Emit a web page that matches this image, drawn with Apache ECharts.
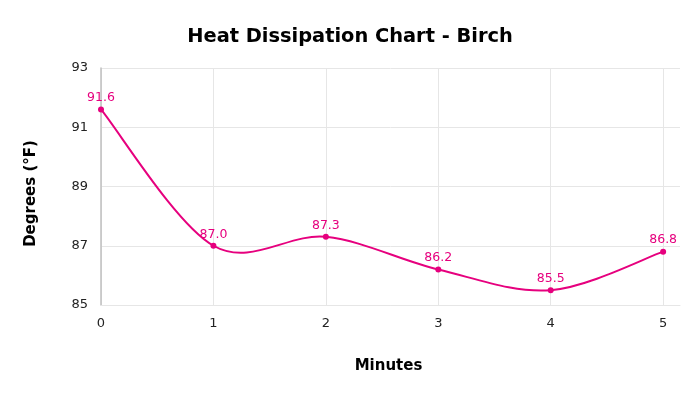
<!DOCTYPE html>
<html><head><meta charset="utf-8">
<script src="https://cdn.jsdelivr.net/npm/echarts@6/dist/echarts.min.js"></script>
<style>html,body{margin:0;padding:0;background:#fff}#c{width:700px;height:394px}</style>
</head><body><div id="c"></div>
<script>
const minutes = [0, 1, 2, 3, 4, 5];
const degrees = [91.6, 87.0, 87.3, 86.2, 85.5, 86.8];
const yTicks = [85, 87, 89, 91, 93];
const color = '#e6007e';
const font = 'DejaVu Sans';
const chart = echarts.init(document.getElementById('c'));

// Smooth (Catmull-Rom style) curve through the data points, positioned via api.coord
function renderCurve(params, api) {
  if (params.dataIndex !== 0) return;
  const pts = minutes.map((m, i) => api.coord([m, degrees[i]]));
  const k = 1 / 6;
  let d = 'M' + pts[0][0] + ' ' + pts[0][1];
  for (let i = 0; i < pts.length - 1; i++) {
    const p0 = pts[Math.max(i - 1, 0)], p1 = pts[i], p2 = pts[i + 1], p3 = pts[Math.min(i + 2, pts.length - 1)];
    const c1 = [p1[0] + (p2[0] - p0[0]) * k, p1[1] + (p2[1] - p0[1]) * k];
    const c2 = [p2[0] - (p3[0] - p1[0]) * k, p2[1] - (p3[1] - p1[1]) * k];
    d += ' C' + c1[0] + ' ' + c1[1] + ' ' + c2[0] + ' ' + c2[1] + ' ' + p2[0] + ' ' + p2[1];
  }
  return {type: 'path', shape: {pathData: d}, style: {fill: 'none', stroke: color, lineWidth: 2}};
}

chart.setOption({
  animation: false,
  title: {
    text: 'Heat Dissipation Chart - Birch', left: 'center', top: 22,
    textStyle: {fontFamily: font, fontWeight: 'bold', fontSize: 19.4, color: '#000'}
  },
  grid: {left: 101, right: 20, top: 68, bottom: 89},
  xAxis: {
    type: 'value', min: 0, max: 5.15, interval: 1,
    name: 'Minutes', nameLocation: 'middle', nameGap: 54,
    nameTextStyle: {fontFamily: font, fontWeight: 'bold', fontSize: 15, color: '#000', padding: [0, 4, 0, 0]},
    axisLine: {show: true, lineStyle: {color: '#e6e6e6'}},
    axisTick: {show: false},
    axisLabel: {fontFamily: font, fontSize: 13, color: '#222', margin: 12, showMaxLabel: false,
      formatter: v => Number.isInteger(v) ? String(v) : ''},
    splitLine: {show: true, showMaxLine: false, lineStyle: {color: '#e6e6e6'}}
  },
  yAxis: {
    type: 'value', min: yTicks[0], max: yTicks[yTicks.length - 1], interval: 2,
    name: 'Degrees (°F)', nameLocation: 'middle', nameGap: 62, nameRotate: 90,
    nameTextStyle: {fontFamily: font, fontWeight: 'bold', fontSize: 15, color: '#000', padding: [0, 14, 0, 0]},
    axisLine: {show: true, lineStyle: {color: '#bfbfbf', width: 1.5}},
    axisTick: {show: false},
    axisLabel: {fontFamily: font, fontSize: 13, color: '#222', margin: 13},
    splitLine: {show: true, lineStyle: {color: '#e6e6e6'}}
  },
  series: [{
    type: 'custom', renderItem: renderCurve, clip: false, silent: true,
    data: [[minutes[0], degrees[0]]], z: 2
  }, {
    type: 'line',
    data: minutes.map((m, i) => [m, degrees[i]]),
    symbol: 'circle', symbolSize: 6,
    lineStyle: {width: 0, opacity: 0},
    itemStyle: {color: color}, z: 3,
    label: {show: true, position: 'top', distance: 2, color: color, fontFamily: font, fontSize: 12.5,
      formatter: p => p.value[1].toFixed(1)}
  }]
});
</script></body></html>
